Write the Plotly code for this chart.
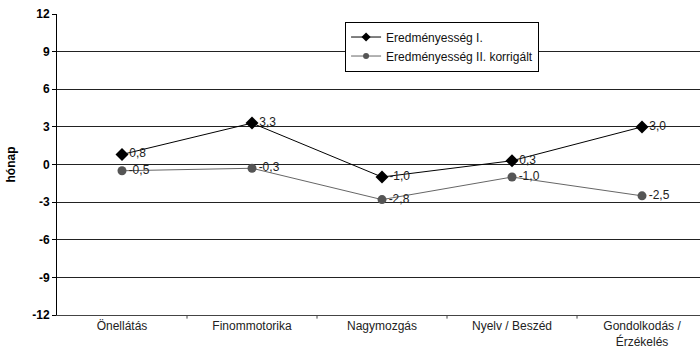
import plotly.graph_objects as go

categories = ["Önellátás", "Finommotorika", "Nagymozgás", "Nyelv / Beszéd", "Gondolkodás /<br>Érzékelés"]
series1_name = "Eredményesség I."
series1_values = [0.8, 3.3, -1.0, 0.3, 3.0]
series2_name = "Eredményesség II. korrigált"
series2_values = [-0.5, -0.3, -2.8, -1.0, -2.5]
y_ticks = [-12, -9, -6, -3, 0, 3, 6, 9, 12]

FONT = "Liberation Sans, Arial"


def hu_label(v):
    return f"{v:.1f}".replace(".", ",")


x_idx = list(range(len(categories)))

styles = [
    dict(name=series1_name, values=series1_values, line="#000000", marker="#000000",
         symbol="diamond", size=10, legend_size=7),
    dict(name=series2_name, values=series2_values, line="#666666", marker="#555555",
         symbol="circle", size=9, legend_size=6),
]

fig = go.Figure()
for s in styles:
    fig.add_trace(go.Scatter(
        x=x_idx, y=s["values"], name=s["name"], showlegend=False,
        mode="lines+markers+text",
        line=dict(color=s["line"], width=1),
        marker=dict(symbol=s["symbol"], size=s["size"], color=s["marker"]),
        text=[hu_label(v) for v in s["values"]],
        textposition="middle right",
        textfont=dict(family=FONT, size=12, color="#222222"),
        cliponaxis=False,
    ))
# legend entries with smaller sample markers
for s in styles:
    fig.add_trace(go.Scatter(
        x=[None], y=[None], name=s["name"], mode="lines+markers",
        line=dict(color=s["line"], width=1),
        marker=dict(symbol=s["symbol"], size=s["legend_size"], color=s["marker"]),
    ))

fig.update_layout(
    width=700, height=356,
    margin=dict(l=57, r=0, t=14, b=41),
    paper_bgcolor="white", plot_bgcolor="white",
    font=dict(family=FONT, size=12, color="#000000"),
    showlegend=True,
    legend=dict(
        x=0.448, y=0.975, xanchor="left", yanchor="top",
        bgcolor="white", bordercolor="#000000", borderwidth=1,
        font=dict(size=12, color="#111111"), tracegroupgap=0, itemwidth=30,
    ),
    xaxis=dict(
        range=[-0.5, 4.446],
        tickmode="array", tickvals=x_idx, ticktext=categories,
        showgrid=False, zeroline=False,
        showline=True, linecolor="#444444", linewidth=1,
        ticks="", tickfont=dict(size=12, color="#222222", weight="normal"),
    ),
    yaxis=dict(
        range=[-12, 12],
        tickmode="array", tickvals=y_ticks, ticktext=[str(t) for t in y_ticks],
        showgrid=True, gridcolor="#222222", gridwidth=1,
        zeroline=False,
        showline=True, linecolor="#000000", linewidth=1,
        ticks="outside", ticklen=4, tickcolor="#000000",
        tickfont=dict(size=12, family=FONT, weight="bold"),
        title=dict(text="<b>hónap</b>", font=dict(size=12), standoff=14),
    ),
)

# category boundary tick marks below the x axis
for b in [0.5, 1.5, 2.5, 3.5]:
    fig.add_shape(type="line", xref="x", yref="paper", x0=b, x1=b, y0=0, y1=-0.012,
                  line=dict(color="#444444", width=1))

fig.write_html("out.html")
